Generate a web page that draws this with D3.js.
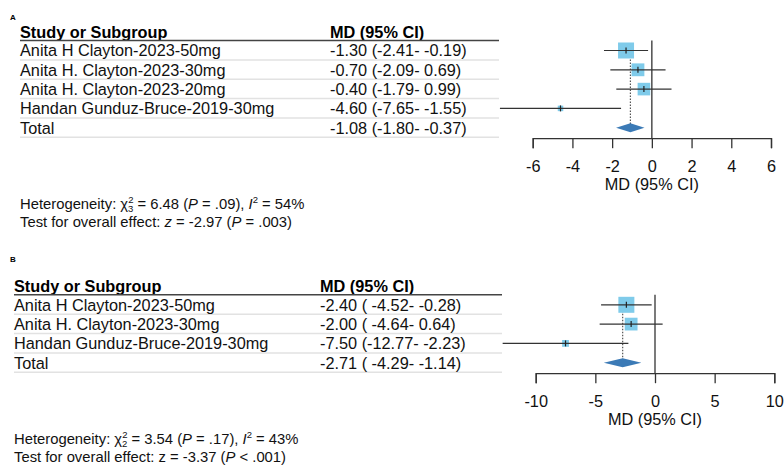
<!DOCTYPE html>
<html>
<head>
<meta charset="utf-8">
<script src="https://cdn.jsdelivr.net/npm/d3@7"></script>
<style>
  body { margin: 0; background: #fff; }
  svg { font-family: "Liberation Sans", Arial, sans-serif; }
</style>
</head>
<body>
<div id="chart"></div>
<script>
// ---- data: panel A ----
const studiesA = ["Anita H Clayton-2023-50mg", "Anita H. Clayton-2023-30mg", "Anita H. Clayton-2023-20mg", "Handan Gunduz-Bruce-2019-30mg"];
const mdA = [-1.30, -0.70, -0.40, -4.60];
const loA = [-2.41, -2.09, -1.79, -7.65];
const hiA = [-0.19, 0.69, 0.99, -1.55];
const weightA = [42, 27, 26, 5];
const totalA = [-1.08, -1.80, -0.37];
const ticksA = [-6, -4, -2, 0, 2, 4, 6];
const hetA = { chi: "6.48", df: "3", p: "= .09", i2: "54%", z: "-2.97", pz: "= .003", zItalic: true };

// ---- data: panel B ----
const studiesB = ["Anita H Clayton-2023-50mg", "Anita H. Clayton-2023-30mg", "Handan Gunduz-Bruce-2019-30mg"];
const mdB = [-2.40, -2.00, -7.50];
const loB = [-4.52, -4.64, -12.77];
const hiB = [-0.28, 0.64, -2.23];
const weightB = [55, 35, 10];
const totalB = [-2.71, -4.29, -1.14];
const ticksB = [-10, -5, 0, 5, 10];
const hetB = { chi: "3.54", df: "2", p: "= .17", i2: "43%", z: "-3.37", pz: "< .001", zItalic: false };

const W = 784, H = 466;
const svg = d3.select("#chart").append("svg")
    .attr("width", W)
    .attr("height", H);

const FS = 16.3;   // table / axis font size

function fmt(v) { return v.toFixed(2); }

function drawPanel(opt) {
    let g = svg.append("g");
    let n = opt.studies.length;
    let rowH = 19.3;
    let rowY = i => opt.top + 11 + rowH * i; // row centres
    let lastY = rowY(n);
    let axisY = lastY + 10.5;

    // panel letter
    g.append("text")
        .attr("x", 10).attr("y", opt.letterY)
        .attr("font-size", 8).attr("font-weight", "bold")
        .text(opt.letter);

    // header
    g.append("text")
        .attr("x", opt.left).attr("y", opt.top - 1.5)
        .attr("font-size", FS).attr("font-weight", "bold")
        .text("Study or Subgroup");
    g.append("text")
        .attr("x", opt.mdX).attr("y", opt.top - 1.5)
        .attr("font-size", FS).attr("font-weight", "bold")
        .text("MD (95% CI)");
    g.append("line")
        .attr("x1", opt.left).attr("x2", opt.tableRight)
        .attr("y1", opt.top + 1).attr("y2", opt.top + 1)
        .attr("stroke", "#444").attr("stroke-width", 1.4);

    // rows (studies + total)
    let rows = opt.studies.map((s, i) => ({
        name: s, md: opt.md[i], lo: opt.lo[i], hi: opt.hi[i], w: opt.weight[i]
    }));
    let labels = rows.map(d => ({ name: d.name, md: d.md, lo: d.lo, hi: d.hi }));
    labels.push({ name: "Total", md: opt.total[0], lo: opt.total[1], hi: opt.total[2] });

    g.selectAll(".sep")
        .data(labels)
        .enter().append("line")
        .attr("class", "sep")
        .attr("x1", opt.left).attr("x2", opt.tableRight)
        .attr("y1", (d, i) => rowY(i) + 9.5).attr("y2", (d, i) => rowY(i) + 9.5)
        .attr("stroke", "#e2e2e2").attr("stroke-width", 1.5);

    g.selectAll(".name")
        .data(labels)
        .enter().append("text")
        .attr("class", "name")
        .attr("x", opt.left).attr("y", (d, i) => rowY(i) + 5.8)
        .attr("font-size", FS).attr("fill", "#111")
        .text(d => d.name);

    g.selectAll(".mdtxt")
        .data(labels)
        .enter().append("text")
        .attr("class", "mdtxt")
        .attr("x", opt.mdX).attr("y", (d, i) => rowY(i) + 5.8)
        .attr("font-size", FS).attr("fill", "#111")
        .attr("xml:space", "preserve")
        .style("white-space", "pre")
        .text(d => fmt(d.md) + " (" + fmt(d.lo).padStart(opt.pad) + "- " + fmt(d.hi) + ")");

    // forest plot
    let x = d3.scaleLinear().domain(opt.domain).range(opt.range);
    let size = d3.scaleSqrt().domain([0, d3.max(opt.weight)]).range([0, 16]);

    // zero line
    g.append("line")
        .attr("x1", x(0)).attr("x2", x(0))
        .attr("y1", opt.top + 1).attr("y2", axisY)
        .attr("stroke", "#333").attr("stroke-width", 1.3);

    // dotted line at pooled estimate
    g.append("line")
        .attr("x1", x(opt.total[0])).attr("x2", x(opt.total[0]))
        .attr("y1", rowY(0)).attr("y2", lastY)
        .attr("stroke", "#555").attr("stroke-width", 1.2)
        .attr("stroke-dasharray", "1.5,1.5");

    // squares
    g.selectAll(".sq")
        .data(rows)
        .enter().append("rect")
        .attr("class", "sq")
        .attr("x", d => x(d.md) - size(d.w) / 2)
        .attr("y", (d, i) => rowY(i) - size(d.w) / 2)
        .attr("width", d => size(d.w))
        .attr("height", d => size(d.w))
        .attr("fill", "#7fcbea");

    // confidence intervals
    g.selectAll(".ci")
        .data(rows)
        .enter().append("line")
        .attr("class", "ci")
        .attr("x1", d => x(d.lo)).attr("x2", d => x(d.hi))
        .attr("y1", (d, i) => rowY(i)).attr("y2", (d, i) => rowY(i))
        .attr("stroke", "#333").attr("stroke-width", 1.2);

    // point estimate markers
    g.selectAll(".pt")
        .data(rows)
        .enter().append("line")
        .attr("class", "pt")
        .attr("x1", d => x(d.md)).attr("x2", d => x(d.md))
        .attr("y1", (d, i) => rowY(i) - 3).attr("y2", (d, i) => rowY(i) + 3)
        .attr("stroke", "#222").attr("stroke-width", 1.2);

    // diamond
    let dh = 4.5;
    g.append("path")
        .attr("d", "M" + x(opt.total[1]) + "," + lastY +
            "L" + x(opt.total[0]) + "," + (lastY - dh) +
            "L" + x(opt.total[2]) + "," + lastY +
            "L" + x(opt.total[0]) + "," + (lastY + dh) + "Z")
        .attr("fill", "#3b7ab6");

    // axis
    let axis = g.append("g")
        .attr("transform", "translate(0," + axisY + ")")
        .call(d3.axisBottom(x).tickValues(opt.ticks).tickSize(10).tickPadding(10)
            .tickFormat(d => d < 0 ? "-" + Math.abs(d) : d));
    axis.select(".domain").attr("stroke", "#333").attr("stroke-width", 1.3);
    axis.selectAll(".tick line").attr("stroke", "#333").attr("stroke-width", 1.3);
    axis.selectAll(".tick text")
        .attr("font-size", FS).attr("fill", "#111")
        .attr("font-family", "Liberation Sans, Arial, sans-serif")
        .attr("dy", "0.85em");

    g.append("text")
        .attr("x", (opt.range[0] + opt.range[1]) / 2)
        .attr("y", axisY + 52)
        .attr("text-anchor", "middle")
        .attr("font-size", FS).attr("fill", "#111")
        .text("MD (95% CI)");

    // heterogeneity notes
    let h = opt.het;
    let t1 = g.append("text")
        .attr("x", opt.left).attr("y", axisY + 71)
        .attr("font-size", 14.8).attr("fill", "#111");
    t1.append("tspan").text("Heterogeneity: χ");
    t1.append("tspan").attr("font-size", 9.5).attr("dy", -6).text("2");
    t1.append("tspan").attr("font-size", 9.5).attr("dx", -5.3).attr("dy", 9).text(h.df);
    t1.append("tspan").attr("dy", -3).text(" = " + h.chi + " (");
    t1.append("tspan").attr("font-style", "italic").text("P");
    t1.append("tspan").text(" " + h.p + "), ");
    t1.append("tspan").attr("font-style", "italic").text("I");
    t1.append("tspan").attr("font-size", 9.5).attr("dy", -6).text("2");
    t1.append("tspan").attr("dy", 6).text(" = " + h.i2);

    let t2 = g.append("text")
        .attr("x", opt.left).attr("y", axisY + 88.5)
        .attr("font-size", 14.8).attr("fill", "#111");
    t2.append("tspan").text("Test for overall effect: ");
    t2.append("tspan").attr("font-style", h.zItalic ? "italic" : "normal").text("z");
    t2.append("tspan").text(" = " + h.z + " (");
    t2.append("tspan").attr("font-style", "italic").text("P");
    t2.append("tspan").text(" " + h.pz + ")");
}

drawPanel({
    letter: "A", letterY: 20, top: 39.5, left: 20, mdX: 330, tableRight: 499, pad: 5,
    studies: studiesA, md: mdA, lo: loA, hi: hiA, weight: weightA, total: totalA,
    domain: [-6, 6], range: [532.7, 771], ticks: ticksA, het: hetA
});

drawPanel({
    letter: "B", letterY: 262, top: 293.8, left: 14, mdX: 320, tableRight: 502, pad: 6,
    studies: studiesB, md: mdB, lo: loB, hi: hiB, weight: weightB, total: totalB,
    domain: [-10, 10], range: [535.7, 774.3], ticks: ticksB, het: hetB
});
</script>
</body>
</html>
